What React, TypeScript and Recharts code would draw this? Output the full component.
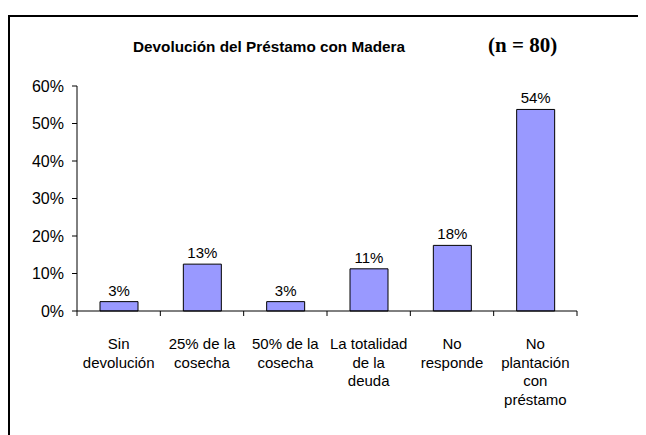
import { BarChart, Bar, XAxis, YAxis, LabelList } from "recharts";

const categories = [
  "Sin devolución",
  "25% de la cosecha",
  "50% de la cosecha",
  "La totalidad de la deuda",
  "No responde",
  "No plantación con préstamo",
];

// etiquetas del eje X partidas en líneas, como en el original
const categoryLines = [
  ["Sin", "devolución"],
  ["25% de la", "cosecha"],
  ["50% de la", "cosecha"],
  ["La totalidad", "de la", "deuda"],
  ["No", "responde"],
  ["No", "plantación", "con", "préstamo"],
];

// porcentajes sobre n = 80
const values = [2.5, 12.5, 2.5, 11.25, 17.5, 53.75];

const yTicks = [0, 10, 20, 30, 40, 50, 60];

const data = categories.map((c, i) => ({ name: c, value: values[i], idx: i }));

const FONT = "'Liberation Sans', Arial, sans-serif";
const PLOT_W = 500;

function CategoryTick(props: any) {
  const { x, y, payload } = props;
  const i = payload.index;
  const band = PLOT_W / categories.length;
  const lines = categoryLines[i] ?? [];
  const left = x - band / 2;
  return (
    <g>
      <line x1={left} y1={y - 8} x2={left} y2={y - 3} stroke="#000" />
      {i === categories.length - 1 && (
        <line x1={x + band / 2} y1={y - 8} x2={x + band / 2} y2={y - 3} stroke="#000" />
      )}
      <text x={x} y={y + 30} textAnchor="middle" fontSize={15} fontFamily={FONT} fill="#000">
        {lines.map((l, k) => (
          <tspan key={k} x={x} dy={k === 0 ? 0 : 18.5}>
            {l}
          </tspan>
        ))}
      </text>
    </g>
  );
}

export default function App() {
  return (
    <div style={{ position: "relative", width: 638, height: 427, overflow: "hidden" }}>
      <div
        style={{
          position: "absolute",
          left: 0,
          top: 7,
          width: 700,
          height: 500,
          border: "2px solid #000",
          boxSizing: "border-box",
        }}
      />
      <div
        style={{
          position: "absolute",
          left: 125,
          top: 30,
          fontFamily: FONT,
          fontWeight: "bold",
          fontSize: 15.3,
          whiteSpace: "nowrap",
        }}
      >
        Devolución del Préstamo con Madera
      </div>
      <div
        style={{
          position: "absolute",
          left: 480,
          top: 25,
          fontFamily: "'Liberation Serif', 'Times New Roman', serif",
          fontWeight: "bold",
          fontSize: 21,
          whiteSpace: "nowrap",
        }}
      >
        (n = 80)
      </div>
      <div style={{ position: "absolute", left: 0, top: 0 }}>
        <BarChart
          width={638}
          height={420}
          data={data}
          margin={{ top: 78, right: 69, bottom: 0, left: 0 }}
        >
          <XAxis
            dataKey="name"
            interval={0}
            height={117}
            axisLine={{ stroke: "#000" }}
            tickLine={false}
            tick={<CategoryTick />}
          />
          <YAxis
            width={69}
            domain={[0, 60]}
            ticks={yTicks}
            interval={0}
            tickFormatter={(v: number) => `${v}%`}
            axisLine={{ stroke: "#000" }}
            tickLine={{ stroke: "#000" }}
            tickSize={5}
            tickMargin={8}
            tick={{ fontSize: 16, fontFamily: FONT, fill: "#000" }}
          />
          <Bar
            dataKey="value"
            fill="#9999FF"
            stroke="#000"
            strokeWidth={1}
            barSize={38}
            isAnimationActive={false}
          >
            <LabelList
              dataKey="value"
              position="top"
              offset={6}
              formatter={(v: number) => `${Math.round(v)}%`}
              style={{ fontSize: 15, fontFamily: FONT, fill: "#000" }}
            />
          </Bar>
        </BarChart>
      </div>
    </div>
  );
}
